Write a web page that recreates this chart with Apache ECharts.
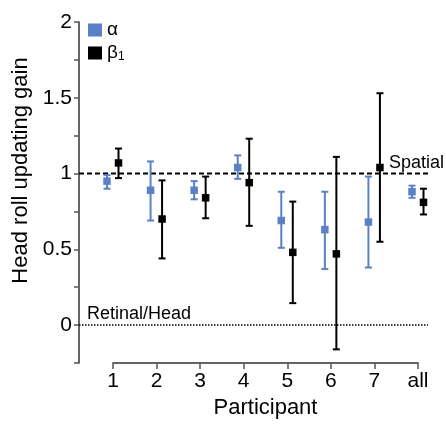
<!DOCTYPE html>
<html>
<head>
<meta charset="utf-8">
<script src="https://cdn.jsdelivr.net/npm/echarts@6/dist/echarts.min.js"></script>
<style>
html,body{margin:0;padding:0;background:#fff;}
#chart{width:446px;height:424px;}
</style>
</head>
<body>
<div id="chart"></div>
<script>
const categories = ['1', '2', '3', '4', '5', '6', '7', 'all'];
const alphaMean = [0.95, 0.89, 0.89, 1.04, 0.69, 0.63, 0.68, 0.88];
const alphaLow  = [0.90, 0.69, 0.83, 0.965, 0.51, 0.37, 0.38, 0.84];
const alphaHigh = [0.99, 1.08, 0.95, 1.12, 0.88, 0.88, 0.98, 0.92];
const betaMean  = [1.07, 0.70, 0.84, 0.94, 0.48, 0.47, 1.04, 0.81];
const betaLow   = [0.97, 0.44, 0.705, 0.655, 0.145, -0.16, 0.55, 0.73];
const betaHigh  = [1.165, 0.955, 0.98, 1.23, 0.815, 1.11, 1.53, 0.90];
const refValues = [1, 0];
const refLabels = ['Spatial', 'Retinal/Head'];

const FONT = '"Liberation Sans", Arial, sans-serif';
const BLUE = '#5b80c6';
const BLACK = '#000000';

function makeErrData(mean, low, high) {
  return categories.map((c, i) => [i, mean[i], low[i], high[i]]);
}

function errRenderer(dx, color, lw) {
  return function (params, api) {
    const x = api.value(0);
    const pm = api.coord([x, api.value(1)]);
    const pl = api.coord([x, api.value(2)]);
    const ph = api.coord([x, api.value(3)]);
    const cx = pm[0] + dx;
    const cap = 3.5;
    const sq = 7.5;
    const st = { stroke: color, lineWidth: lw };
    return {
      type: 'group',
      children: [
        { type: 'line', shape: { x1: cx, y1: pl[1], x2: cx, y2: ph[1] }, style: st },
        { type: 'line', shape: { x1: cx - cap, y1: pl[1], x2: cx + cap, y2: pl[1] }, style: st },
        { type: 'line', shape: { x1: cx - cap, y1: ph[1], x2: cx + cap, y2: ph[1] }, style: st },
        { type: 'rect', shape: { x: cx - sq / 2, y: pm[1] - sq / 2, width: sq, height: sq }, style: { fill: color } }
      ]
    };
  };
}

function refRenderer(params, api) {
  const i = params.dataIndex;
  const p = api.coord([0, api.value(1)]);
  const cs = params.coordSys;
  const x1 = cs.x - 34;
  const x2 = cs.x + cs.width + 10;
  const isSpatial = i === 0;
  return {
    type: 'group',
    children: [
      {
        type: 'line',
        shape: { x1: x1, y1: p[1], x2: x2, y2: p[1] },
        style: isSpatial
          ? { stroke: '#000', lineWidth: 2, lineDash: [5, 3] }
          : { stroke: '#000', lineWidth: 1.5, lineDash: [1.5, 1.5] }
      },
      {
        type: 'text',
        x: isSpatial ? cs.x + cs.width - 29 : x1 + 8,
        y: p[1] - 2,
        style: {
          text: refLabels[i],
          fill: '#000',
          font: '18px ' + FONT,
          textAlign: 'left',
          textVerticalAlign: 'bottom'
        }
      }
    ]
  };
}

const chart = echarts.init(document.getElementById('chart'), null, { renderer: 'canvas' });

chart.setOption({
  animation: false,
  backgroundColor: '#fff',
  grid: { left: 113, right: 28, top: 22, bottom: 58 },
  legend: {
    orient: 'vertical',
    left: 88,
    top: 20,
    padding: 0,
    itemWidth: 14,
    itemHeight: 13,
    itemGap: 3,
    icon: 'rect',
    data: ['α', 'β1'],
    formatter: function (name) {
      return name === 'β1' ? '{n|β}{s|1}' : '{n|α}';
    },
    textStyle: {
      fontFamily: FONT,
      fontSize: 19,
      color: '#000',
      lineHeight: 20,
      rich: {
        n: { fontFamily: FONT, fontSize: 19, color: '#000', lineHeight: 20 },
        s: { fontFamily: FONT, fontSize: 12, color: '#000', lineHeight: 20, verticalAlign: 'bottom' }
      }
    }
  },
  xAxis: {
    type: 'category',
    data: categories,
    boundaryGap: false,
    name: 'Participant',
    nameLocation: 'middle',
    nameGap: 34,
    nameTextStyle: { fontFamily: FONT, fontSize: 22, color: '#000' },
    axisLine: { onZero: false, lineStyle: { color: '#333', width: 1.5 } },
    axisTick: { alignWithLabel: true, length: 6, lineStyle: { color: '#555', width: 1.5 } },
    axisLabel: { fontFamily: FONT, fontSize: 21, color: '#000', margin: 8 },
    splitLine: { show: false }
  },
  yAxis: {
    type: 'value',
    min: -0.25,
    max: 2,
    interval: 0.25,
    offset: 34,
    name: 'Head roll updating gain',
    nameLocation: 'middle',
    nameGap: 42,
    nameTextStyle: { fontFamily: FONT, fontSize: 22, color: '#000', padding: [0, 0, 0, 44] },
    axisLine: { show: true, lineStyle: { color: '#333', width: 1.5 } },
    axisTick: { show: true, length: 5, lineStyle: { color: '#555', width: 1.5 } },
    axisLabel: {
      fontFamily: FONT, fontSize: 21, color: '#000', margin: 7,
      formatter: function (v) {
        const r = Math.round(v * 100) / 100;
        return (Math.abs(r * 2 - Math.round(r * 2)) < 1e-6) && r >= 0 ? String(r) : '';
      }
    },
    splitLine: { show: false }
  },
  series: [
    {
      name: 'ref',
      type: 'custom',
      renderItem: refRenderer,
      data: refValues.map((v, i) => [0, v]),
      encode: { x: 0, y: 1 },
      silent: true,
      z: 1
    },
    {
      name: 'α',
      type: 'custom',
      itemStyle: { color: BLUE },
      renderItem: errRenderer(-6, BLUE, 2),
      data: makeErrData(alphaMean, alphaLow, alphaHigh),
      encode: { x: 0, y: [1, 2, 3] },
      z: 3
    },
    {
      name: 'β1',
      type: 'custom',
      itemStyle: { color: BLACK },
      renderItem: errRenderer(5.5, BLACK, 2),
      data: makeErrData(betaMean, betaLow, betaHigh),
      encode: { x: 0, y: [1, 2, 3] },
      z: 4
    }
  ]
});
</script>
</body>
</html>
